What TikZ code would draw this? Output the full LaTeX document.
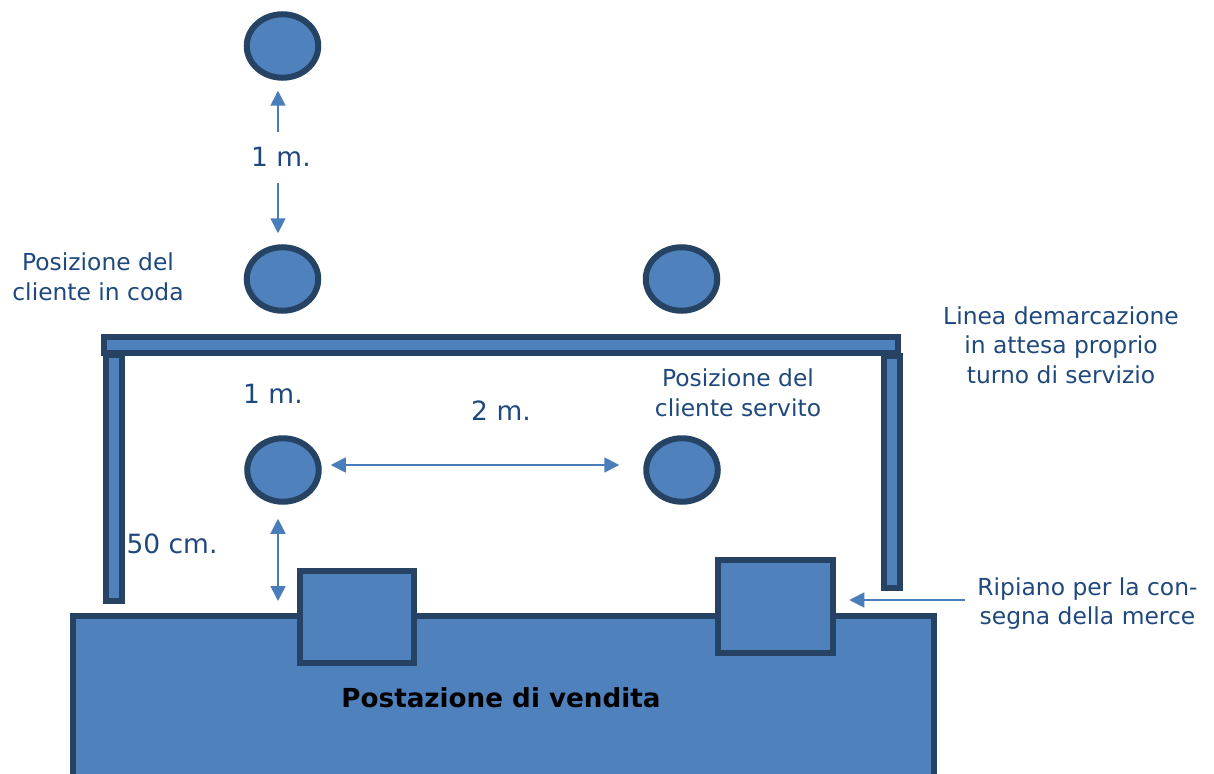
\documentclass[tikz,border=0pt]{standalone}
\usepackage{fontspec}
\setmainfont{DejaVu Sans}
\usepackage{xcolor}
\usetikzlibrary{arrows.meta,shapes.geometric}
\definecolor{fillblue}{HTML}{4F81BD}
\definecolor{edgeblue}{HTML}{264364}
\definecolor{arrowblue}{HTML}{4A7EBB}
\definecolor{textblue}{HTML}{1F497D}
\tikzset{
block/.style={draw=edgeblue, fill=fillblue, line width=6pt, rectangle, inner sep=0pt},
client/.style={draw=edgeblue, fill=fillblue, line width=6pt, ellipse, inner sep=0pt, minimum width=71.5pt, minimum height=63.5pt},
label/.style={text=textblue, align=center, font=\fontsize{23.4}{29.5}\selectfont},
biglabel/.style={text=textblue, font=\fontsize{26.5}{30}\selectfont},
dim/.style={draw=arrowblue, line width=1.8pt, -{Triangle[length=15pt, width=15pt]}},
dimboth/.style={draw=arrowblue, line width=1.8pt, {Triangle[length=15pt, width=15pt]}-{Triangle[length=15pt, width=15pt]}}
}
\begin{document}
\begin{tikzpicture}[x=1pt, y=-1pt]
\clip (0,0) rectangle (1214,773);
\node[block, minimum width=861.5pt, minimum height=300pt] at (503.5,766) (base) {};
\node[block, minimum width=16pt, minimum height=246pt] at (113.5,478) (postleft) {};
\node[block, minimum width=16pt, minimum height=232.5pt] at (891.5,472) (postright) {};
\node[block, minimum width=794.5pt, minimum height=16.5pt] at (501,345) (bar) {};
\node[block, minimum width=114.5pt, minimum height=92.5pt] at (357,617) (shelfleft) {};
\node[block, minimum width=115.5pt, minimum height=93.5pt] at (775.5,606.5) (shelfright) {};
\node[client] at (282.5,46) (top) {};
\node[client] at (282.5,279) (queue) {};
\node[client] at (681.5,279) (queueright) {};
\node[client] at (283,470) (served) {};
\node[client] at (682,470) (servedright) {};
\node[biglabel] at (281,157) (onetop) {1 m.};
\node[biglabel] at (273,394) (oneserved) {1 m.};
\node[biglabel] at (501,411) (twoserved) {2 m.};
\node[biglabel] at (172,544) (fifty) {50 cm.};
\node[label] at (98,277) (queuetext) {Posizione del\\cliente in coda};
\node[label] at (738,393) (servedtext) {Posizione del\\cliente servito};
\node[label] at (1061,345) (linetext) {Linea demarcazione\\in attesa proprio\\turno di servizio};
\node[label] at (1087.5,603.5) (shelftext) {Ripiano per la con-\\segna della merce};
\node[font=\bfseries\fontsize{26.2}{30}\selectfont] at (501,698) (basetext) {Postazione di vendita};
\coordinate (onea) at (278,132);
\coordinate (oneb) at (278,183);
\coordinate (fiftya) at (278,601);
\coordinate (shelfa) at (965,600);
\draw[dim, shorten >=10pt] (onea) -- (onea |- top.south);
\draw[dim, shorten >=11pt] (oneb) -- (oneb |- queue.north);
\draw[dimboth, shorten <=9pt, shorten >=24pt] ([yshift=5pt]served.east) -- ([yshift=5pt]servedright.west);
\draw[dimboth, shorten <=14pt] (fiftya |- served.south) -- (fiftya);
\draw[dim, shorten >=13pt] (shelfa) -- (shelfa -| shelfright.east);
\end{tikzpicture}
\end{document}
